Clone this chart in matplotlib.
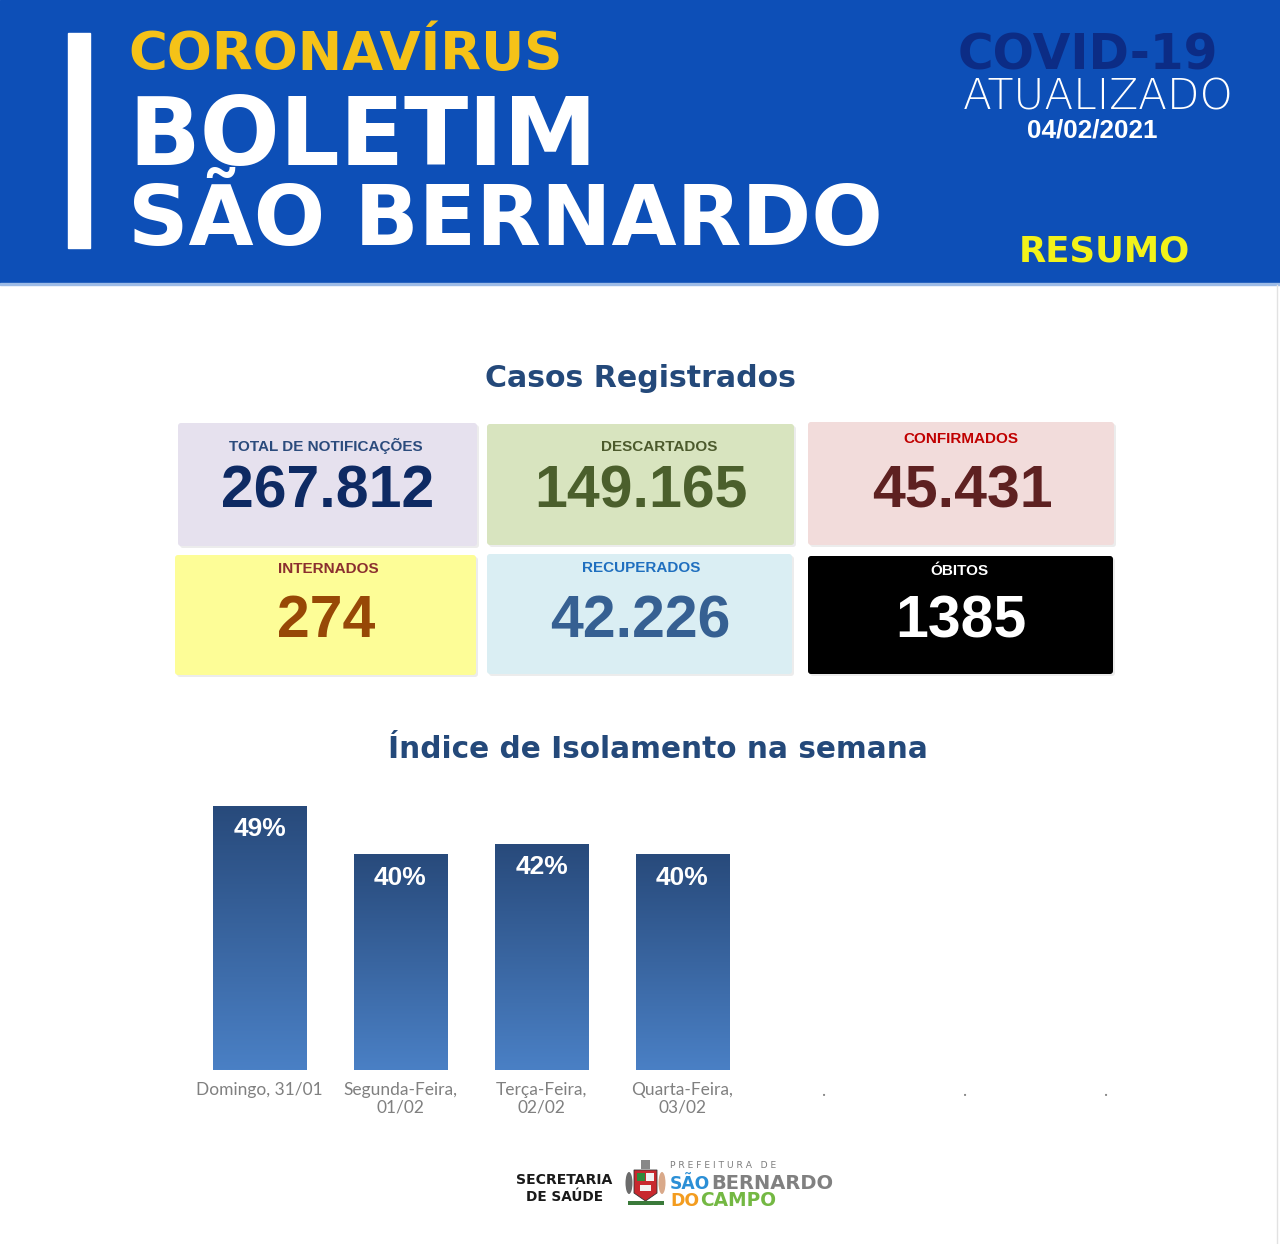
import matplotlib
matplotlib.use('Agg')
import matplotlib.pyplot as plt
import numpy as np
from matplotlib.patches import Rectangle, FancyBboxPatch, Polygon, Ellipse
from matplotlib.colors import LinearSegmentedColormap

plt.rcParams['font.family'] = ['DejaVu Sans']

# dados
dias = ['Domingo, 31/01', 'Segunda-Feira,\n01/02', 'Terça-Feira,\n02/02',
        'Quarta-Feira,\n03/02', '.', '.', '.']
isolamento = [49, 40, 42, 40]

card_titulos = ['TOTAL DE NOTIFICAÇÕES', 'DESCARTADOS', 'CONFIRMADOS',
                'INTERNADOS', 'RECUPERADOS', 'ÓBITOS']
card_valores = ['267.812', '149.165', '45.431', '274', '42.226', '1385']

W, H = 1280, 1244
fig = plt.figure(figsize=(W / 100, H / 100), dpi=100)
ax = fig.add_axes([0, 0, 1, 1])
ax.set_xlim(0, W)
ax.set_ylim(H, 0)
ax.axis('off')
renderer = fig.canvas.get_renderer()


def fit(x, y, s, width, ha='left', size=20, maxsize=None, **kw):
    # ajusta o tamanho da fonte para ocupar a largura pedida (px)
    t = ax.text(x, y, s, ha=ha, va='baseline', fontsize=size, **kw)
    w = t.get_window_extent(renderer).width
    novo = size * width / w
    if maxsize is not None:
        novo = min(novo, maxsize)
    t.set_fontsize(novo)
    return t


# ---------- cabeçalho ----------
ax.add_patch(Rectangle((0, 0), W, 284, color='#0d4fb7', zorder=0))
ax.add_patch(Rectangle((0, 283), W, 2, color='#9dbbe6', zorder=0))
ax.add_patch(Rectangle((68, 33), 22, 215, color='white'))
fit(128, 70, 'CORONAVÍRUS', 434, color='#f5c218', fontweight='bold')
fit(128, 165, 'BOLETIM', 467, color='white', fontweight='bold')
fit(128, 245, 'SÃO BERNARDO', 752, color='white', fontweight='bold')
fit(1088, 70, 'COVID-19', 292, ha='center', maxsize=35, color='#0c2c85', fontweight='bold')
fit(963, 110, 'ATUALIZADO', 271, color='white', fontweight='light')
fit(1027, 138, '04/02/2021', 131, color='white', fontweight='bold', family='Liberation Sans')
fit(1019, 262, 'RESUMO', 171, color='#f2f21a', fontweight='bold')

ax.plot([1277, 1277], [285, H], color='#e2e2e2', lw=1)

# ---------- casos registrados ----------
fit(640, 387, 'Casos Registrados', 311, ha='center', color='#24497a', fontweight='bold')

boxes = [(178, 423, 477, 546), (487, 424, 794, 545), (808, 422, 1114, 545),
         (175, 555, 476, 675), (487, 554, 792, 674), (808, 556, 1113, 674)]
fundos = ['#e6e1ee', '#d8e4bf', '#f2dcdb', '#fdfd97', '#daeef3', '#000000']
cor_titulo = ['#2b4b7c', '#4c5a2c', '#c00000', '#8b2f2f', '#1f6fbf', '#ffffff']
cor_valor = ['#0e2a63', '#4b5f2c', '#5e2121', '#974806', '#366092', '#ffffff']
titulo_x = [326, 659, 961, 328, 641, 959]
titulo_y = [451, 451, 443, 573, 572, 575]
valor_x = [328, 641, 962, 326, 640, 961]
valor_y = [507, 507, 507, 637, 637, 637]

for i, (x0, y0, x1, y1) in enumerate(boxes):
    ax.add_patch(FancyBboxPatch((x0 + 2, y0 + 2), x1 - x0, y1 - y0,
                                boxstyle='round,pad=0,rounding_size=3',
                                fc='#ececec', ec='none', zorder=0))
    ax.add_patch(FancyBboxPatch((x0, y0), x1 - x0, y1 - y0,
                                boxstyle='round,pad=0,rounding_size=3',
                                fc=fundos[i], ec='none', zorder=1))
    ax.text(titulo_x[i], titulo_y[i], card_titulos[i], ha='center', va='baseline',
            fontsize=11, fontweight='bold', color=cor_titulo[i], family='Liberation Sans')
    ax.text(valor_x[i], valor_y[i], card_valores[i], ha='center', va='baseline',
            fontsize=42.5, fontweight='bold', color=cor_valor[i], family='Liberation Sans')

# ---------- índice de isolamento ----------
fit(658, 758, 'Índice de Isolamento na semana', 540, ha='center', color='#24497a', fontweight='bold')

bx = fig.add_axes([189 / W, (H - 1070) / H, 987 / W, 50 * 5.38 / H])
x = np.arange(len(dias))
bars = bx.bar(x[:len(isolamento)], isolamento, width=0.66, color='none')

cmap = LinearSegmentedColormap.from_list('azul', ['#284a7b', '#4a80c5'])
grad = np.linspace(0, 1, 256).reshape(-1, 1)
for b, v in zip(bars, isolamento):
    bx.imshow(grad, cmap=cmap, aspect='auto', origin='upper',
              extent=(b.get_x(), b.get_x() + b.get_width(), 0, b.get_height()), zorder=2)
    bx.annotate(f'{v}%', (b.get_x() + b.get_width() / 2, v), xytext=(0, -30 * 0.72),
                textcoords='offset points', ha='center', va='baseline', color='white',
                fontsize=19, fontweight='bold', family='Liberation Sans', zorder=3)

bx.set_xlim(-0.5, len(dias) - 0.5)
bx.set_ylim(0, 50)
bx.set_xticks(x)
bx.set_xticklabels(dias, fontsize=12.5, color='#808080', family='Lato',
                   linespacing=1.1)
bx.tick_params(axis='x', length=0, pad=9)
bx.set_yticks([])
for s in bx.spines.values():
    s.set_visible(False)
bx.patch.set_alpha(0)

# ---------- rodapé ----------
fit(564, 1184, 'SECRETARIA', 96, ha='center', color='#1a1a1a', fontweight='bold')
fit(564, 1201, 'DE SAÚDE', 77, ha='center', color='#1a1a1a', fontweight='bold')

# brasão simplificado
ax.add_patch(Polygon([[634, 1170], [657, 1170], [657, 1193], [645.5, 1201], [634, 1193]],
                     closed=True, fc='#c8282e', ec='#333333', lw=0.6))
ax.add_patch(Rectangle((637, 1173), 8, 8, fc='#2f8a3a', ec='none'))
ax.add_patch(Rectangle((646, 1173), 8, 8, fc='#f2f2f2', ec='none'))
ax.add_patch(Rectangle((640, 1185), 11, 6, fc='#f2f2f2', ec='none'))
ax.add_patch(Ellipse((629, 1183), 7, 22, fc='#6b6b6b', ec='none'))
ax.add_patch(Ellipse((662, 1183), 7, 22, fc='#d9a98a', ec='none'))
ax.add_patch(Rectangle((641, 1160), 9, 9, fc='#888888', ec='none'))
ax.add_patch(Rectangle((628, 1201), 36, 4, fc='#3a7a3a', ec='none'))

fit(670, 1168, 'P R E F E I T U R A   D E', 107, color='#7d7d7d')
fit(670, 1189, 'SÃO', 40, color='#2b8fd6', fontweight='bold')
fit(711, 1189, 'BERNARDO', 122, color='#808080', fontweight='bold')
fit(670, 1206, 'DO', 29, color='#f39c1f', fontweight='bold')
fit(700, 1206, 'CAMPO', 76, color='#74b843', fontweight='bold')

fig.savefig('out.png', dpi=100, facecolor='white')
